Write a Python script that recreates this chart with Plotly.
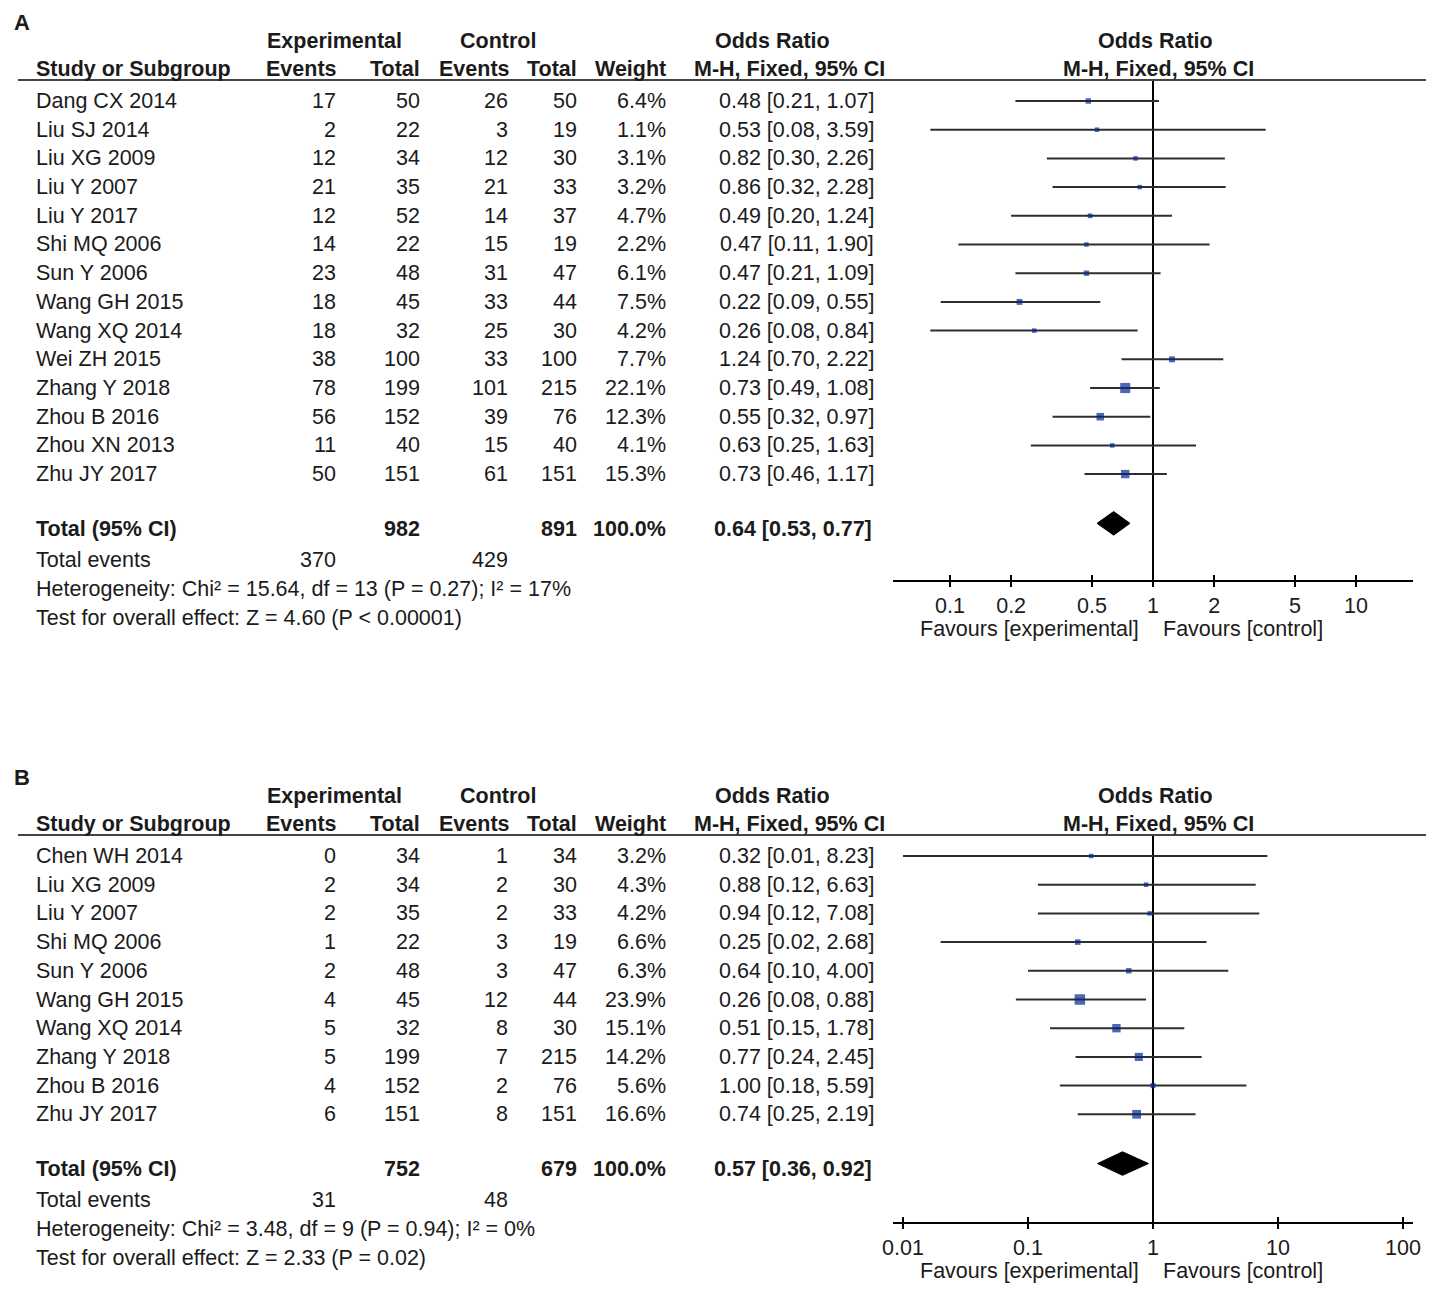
import plotly.graph_objects as go
import math

# page offset (browser body margin) compensation: figure drawn 8px in from the window corner
OFF = 8
W, H = 1434 - OFF, 1289 - OFF

# ---------------- data: panel A ----------------
studies_a = ["Dang CX 2014", "Liu SJ 2014", "Liu XG 2009", "Liu Y 2007", "Liu Y 2017", "Shi MQ 2006",
             "Sun Y 2006", "Wang GH 2015", "Wang XQ 2014", "Wei ZH 2015", "Zhang Y 2018", "Zhou B 2016",
             "Zhou XN 2013", "Zhu JY 2017"]
exp_events_a = [17, 2, 12, 21, 12, 14, 23, 18, 18, 38, 78, 56, 11, 50]
exp_total_a = [50, 22, 34, 35, 52, 22, 48, 45, 32, 100, 199, 152, 40, 151]
ctl_events_a = [26, 3, 12, 21, 14, 15, 31, 33, 25, 33, 101, 39, 15, 61]
ctl_total_a = [50, 19, 30, 33, 37, 19, 47, 44, 30, 100, 215, 76, 40, 151]
weight_a = [6.4, 1.1, 3.1, 3.2, 4.7, 2.2, 6.1, 7.5, 4.2, 7.7, 22.1, 12.3, 4.1, 15.3]
or_a = [0.48, 0.53, 0.82, 0.86, 0.49, 0.47, 0.47, 0.22, 0.26, 1.24, 0.73, 0.55, 0.63, 0.73]
lo_a = [0.21, 0.08, 0.30, 0.32, 0.20, 0.11, 0.21, 0.09, 0.08, 0.70, 0.49, 0.32, 0.25, 0.46]
hi_a = [1.07, 3.59, 2.26, 2.28, 1.24, 1.90, 1.09, 0.55, 0.84, 2.22, 1.08, 0.97, 1.63, 1.17]
total_a = {"exp_total": 982, "ctl_total": 891, "weight": "100.0%", "or": 0.64, "lo": 0.53, "hi": 0.77,
           "exp_events": 370, "ctl_events": 429}
het_a = "Heterogeneity: Chi² = 15.64, df = 13 (P = 0.27); I² = 17%"
test_a = "Test for overall effect: Z = 4.60 (P < 0.00001)"
ticks_a = [0.1, 0.2, 0.5, 1, 2, 5, 10]
ticklabels_a = ["0.1", "0.2", "0.5", "1", "2", "5", "10"]

# ---------------- data: panel B ----------------
studies_b = ["Chen WH 2014", "Liu XG 2009", "Liu Y 2007", "Shi MQ 2006", "Sun Y 2006", "Wang GH 2015",
             "Wang XQ 2014", "Zhang Y 2018", "Zhou B 2016", "Zhu JY 2017"]
exp_events_b = [0, 2, 2, 1, 2, 4, 5, 5, 4, 6]
exp_total_b = [34, 34, 35, 22, 48, 45, 32, 199, 152, 151]
ctl_events_b = [1, 2, 2, 3, 3, 12, 8, 7, 2, 8]
ctl_total_b = [34, 30, 33, 19, 47, 44, 30, 215, 76, 151]
weight_b = [3.2, 4.3, 4.2, 6.6, 6.3, 23.9, 15.1, 14.2, 5.6, 16.6]
or_b = [0.32, 0.88, 0.94, 0.25, 0.64, 0.26, 0.51, 0.77, 1.00, 0.74]
lo_b = [0.01, 0.12, 0.12, 0.02, 0.10, 0.08, 0.15, 0.24, 0.18, 0.25]
hi_b = [8.23, 6.63, 7.08, 2.68, 4.00, 0.88, 1.78, 2.45, 5.59, 2.19]
total_b = {"exp_total": 752, "ctl_total": 679, "weight": "100.0%", "or": 0.57, "lo": 0.36, "hi": 0.92,
           "exp_events": 31, "ctl_events": 48}
het_b = "Heterogeneity: Chi² = 3.48, df = 9 (P = 0.94); I² = 0%"
test_b = "Test for overall effect: Z = 2.33 (P = 0.02)"
ticks_b = [0.01, 0.1, 1, 10, 100]
ticklabels_b = ["0.01", "0.1", "1", "10", "100"]

# ---------------- styling ----------------
FONT = "Liberation Sans, Arial, sans-serif"
FS = 21.5
TXT = "#1b1b1b"
SQ = "#03268f"
CI_COL = "#2e2e2e"
ROW = 28.7

fig = go.Figure()
ann = []


def px(x):
    return max(x - OFF, 0) / W


def py(y):
    return 1 - max(y - OFF, 0) / H


def text(x, y, s, anchor="left", bold=False, size=FS):
    if bold:
        s = "<b>" + s + "</b>"
    nudge = {"left": -2, "right": 2, "center": 0}[anchor]
    ann.append(dict(x=px(x + nudge), y=py(y), xref="paper", yref="paper", text=s, showarrow=False,
                    xanchor=anchor, yanchor="middle", font=dict(family=FONT, size=size, color=TXT)))


def panel(label, top, studies, ee, et, ce, ct, wt, orv, lo, hi, tot, het, test, ticks, tlabels,
          xr, axis_px, xa, ya, xa_ov, total_gap, diamond_off):
    text(14, top - 19, label, bold=True, size=22)
    h1, h2 = top, top + 28
    line_y = top + 39
    text(334, h1, "Experimental", "center", True)
    text(498, h1, "Control", "center", True)
    text(772, h1, "Odds Ratio", "center", True)
    text(1155, h1, "Odds Ratio", "center", True)
    text(36, h2, "Study or Subgroup", "left", True)
    text(337, h2, "Events", "right", True)
    text(420, h2, "Total", "right", True)
    text(510, h2, "Events", "right", True)
    text(577, h2, "Total", "right", True)
    text(666, h2, "Weight", "right", True)
    text(789, h2, "M-H, Fixed, 95% CI", "center", True)
    text(1158, h2, "M-H, Fixed, 95% CI", "center", True)
    fig.add_shape(type="line", xref="paper", yref="paper", x0=px(18), x1=1, y0=py(line_y), y1=py(line_y),
                  line=dict(color="#444444", width=2))
    first = line_y + 21
    for i, s in enumerate(studies):
        y = first + ROW * i
        text(36, y, s)
        text(336, y, str(ee[i]), "right")
        text(420, y, str(et[i]), "right")
        text(508, y, str(ce[i]), "right")
        text(577, y, str(ct[i]), "right")
        text(666, y, f"{wt[i]:.1f}%", "right")
        text(874, y, f"{orv[i]:.2f} [{lo[i]:.2f}, {hi[i]:.2f}]", "right")
    n = len(studies)
    ty = first + ROW * (n - 1) + total_gap
    text(36, ty, "Total (95% CI)", "left", True)
    text(420, ty, str(tot["exp_total"]), "right", True)
    text(577, ty, str(tot["ctl_total"]), "right", True)
    text(666, ty, tot["weight"], "right", True)
    text(872, ty, f"{tot['or']:.2f} [{tot['lo']:.2f}, {tot['hi']:.2f}]", "right", True)
    text(36, ty + 31, "Total events")
    text(336, ty + 31, str(tot["exp_events"]), "right")
    text(508, ty + 31, str(tot["ctl_events"]), "right")
    text(36, ty + 60, het)
    text(36, ty + 89, test)

    # forest plot
    y_top_idx = (line_y - first) / ROW
    y_bot_idx = (axis_px - first) / ROW
    idx = list(range(n))
    fig.add_trace(go.Scatter(
        x=[1, 1], y=[y_top_idx, y_bot_idx], mode="lines", line=dict(color="black", width=2),
        xaxis=xa, yaxis=ya, hoverinfo="skip", showlegend=False))
    fig.add_trace(go.Scatter(
        x=orv, y=idx, mode="markers",
        marker=dict(symbol="square", size=[max(4.5, 2.15 * math.sqrt(w)) for w in wt], color=SQ,
                    line=dict(width=0)),
        error_x=dict(type="data", symmetric=False,
                     array=[h - o for h, o in zip(hi, orv)],
                     arrayminus=[o - l for o, l in zip(orv, lo)],
                     color=CI_COL, thickness=2, width=0),
        xaxis=xa, yaxis=ya, showlegend=False))
    d_idx = (ty - first) / ROW - diamond_off
    dh = 0.41
    fig.add_trace(go.Scatter(
        x=[tot["lo"], tot["or"], tot["hi"], tot["or"], tot["lo"]],
        y=[d_idx, d_idx - dh, d_idx, d_idx + dh, d_idx],
        mode="lines", fill="toself", fillcolor="black", line=dict(color="black", width=1),
        xaxis=xa, yaxis=ya, showlegend=False, hoverinfo="skip"))
    fig.add_trace(go.Scatter(x=[1], y=[y_bot_idx], mode="markers", marker=dict(opacity=0),
                             xaxis=xa_ov, yaxis=ya, showlegend=False, hoverinfo="skip"))

    dom_y = [py(axis_px), py(line_y)]
    dom_x = [px(893), px(1413)]
    axkey = "xaxis" if xa == "x" else "xaxis" + xa[1:]
    yakey = "yaxis" if ya == "y" else "yaxis" + ya[1:]
    ovkey = "xaxis" + xa_ov[1:]
    common = dict(type="log", range=xr, domain=dom_x, tickvals=ticks, ticktext=tlabels,
                  showgrid=False, zeroline=False, showline=True, linecolor="black", linewidth=2,
                  tickcolor="black", tickwidth=2, ticklen=5)
    fig.layout[axkey] = dict(common, anchor=ya, ticks="outside", showticklabels=True,
                             tickfont=dict(family=FONT, size=FS, color=TXT))
    fig.layout[ovkey] = dict(common, anchor=ya, overlaying=xa, ticks="inside", showticklabels=False,
                             side="bottom")
    fig.layout[yakey] = dict(domain=dom_y, range=[y_bot_idx, y_top_idx], visible=False, showgrid=False,
                             zeroline=False, anchor=xa)
    ann.append(dict(x=0, y=py(axis_px + 49), xref=xa, yref="paper", text="Favours [experimental]",
                    showarrow=False, xanchor="right", yanchor="middle", xshift=-12,
                    font=dict(family=FONT, size=FS, color=TXT)))
    ann.append(dict(x=0, y=py(axis_px + 49), xref=xa, yref="paper", text="Favours [control]",
                    showarrow=False, xanchor="left", yanchor="middle", xshift=8,
                    font=dict(family=FONT, size=FS, color=TXT)))


ra = (1413 - 1153) / 203.0
rb = (1413 - 1153) / 125.0
panel("A", 41, studies_a, exp_events_a, exp_total_a, ctl_events_a, ctl_total_a, weight_a, or_a, lo_a, hi_a,
      total_a, het_a, test_a, ticks_a, ticklabels_a, [-ra, ra], 580, "x", "y", "x3", 55, 0.2)
panel("B", 796, studies_b, exp_events_b, exp_total_b, ctl_events_b, ctl_total_b, weight_b, or_b, lo_b, hi_b,
      total_b, het_b, test_b, ticks_b, ticklabels_b, [-rb, rb], 1222, "x2", "y2", "x4", 55, 0.2)

fig.update_layout(width=W, height=H, margin=dict(l=0, r=0, t=0, b=0, pad=0, autoexpand=False),
                  paper_bgcolor="white", plot_bgcolor="rgba(0,0,0,0)", annotations=ann, showlegend=False,
                  font=dict(family=FONT, size=FS, color=TXT))
fig.write_html("out.html")
